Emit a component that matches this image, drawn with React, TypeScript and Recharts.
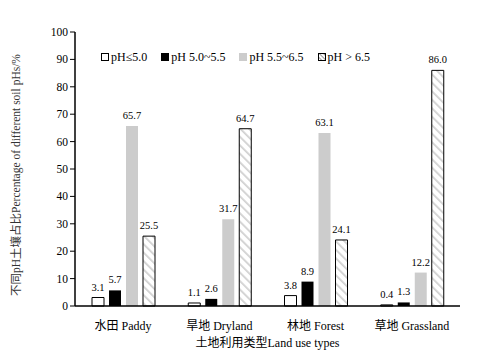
import React from 'react';
import { BarChart, Bar, XAxis, YAxis, Legend, LabelList } from 'recharts';

const categories = ['水田 Paddy', '旱地 Dryland', '林地 Forest', '草地 Grassland'];
const phLow = [3.1, 1.1, 3.8, 0.4];
const phMidLow = [5.7, 2.6, 8.9, 1.3];
const phMidHigh = [65.7, 31.7, 63.1, 12.2];
const phHigh = [25.5, 64.7, 24.1, 86.0];
const yTicks = [0, 10, 20, 30, 40, 50, 60, 70, 80, 90, 100];

const seriesNames = ['pH≤5.0', 'pH 5.0~5.5', 'pH 5.5~6.5', 'pH > 6.5'];

const data = categories.map((name, i) => ({
  name,
  a: phLow[i],
  b: phMidLow[i],
  c: phMidHigh[i],
  d: phHigh[i],
}));

const SERIF = '"Liberation Serif", "Noto Sans CJK SC", serif';
const GRAY = '#cccccc';

const fmt = (v: any) => Number(v).toFixed(1);

function LegendBox() {
  const items = [
    { label: seriesNames[0], fill: '#fff', stroke: '#000' },
    { label: seriesNames[1], fill: '#000', stroke: '#000' },
    { label: seriesNames[2], fill: GRAY, stroke: GRAY },
    { label: seriesNames[3], fill: 'url(#hatchLegend)', stroke: '#000' },
  ];
  return (
    <div style={{ display: 'flex', fontFamily: SERIF, fontSize: 12, color: '#000', lineHeight: '14px' }}>
      {items.map((it, i) => (
        <div key={i} style={{ display: 'flex', alignItems: 'center', marginRight: 14 }}>
          <svg width={8} height={8} style={{ marginRight: 2 }}>
            <defs>
              <pattern id="hatchLegend" width={3} height={3} patternUnits="userSpaceOnUse" patternTransform="rotate(-45)">
                <rect width={3} height={3} fill="#fff" />
                <line x1={0} y1={0} x2={0} y2={3} stroke="#999" strokeWidth={2} />
              </pattern>
            </defs>
            <rect x={0.5} y={0.5} width={7} height={7} fill={it.fill} stroke={it.stroke} strokeWidth={1} />
          </svg>
          <span>{it.label}</span>
        </div>
      ))}
    </div>
  );
}

const labelStyle = { fontFamily: SERIF, fontSize: 10.5, fill: '#000' };

export default function App() {
  return (
    <div style={{ marginLeft: -8, marginTop: -8 }}>
      <BarChart
        width={500}
        height={350}
        data={data}
        margin={{ top: 32, right: 40, bottom: 0, left: 20 }}
        barSize={12}
        barGap={5}
      >
        <defs>
          <pattern id="hatch" width={6} height={6} patternUnits="userSpaceOnUse" patternTransform="rotate(-45)">
            <rect width={6} height={6} fill="#fff" />
            <line x1={0} y1={0} x2={0} y2={6} stroke="#d0d0d0" strokeWidth={3.5} />
          </pattern>
        </defs>
        <XAxis
          dataKey="name"
          height={44}
          tickLine={false}
          axisLine={{ stroke: '#000', strokeWidth: 1.5 }}
          tick={{ fontFamily: SERIF, fontSize: 12, fill: '#000' }}
          tickMargin={9}
          label={{
            value: '土地利用类型Land use types',
            position: 'insideBottom',
            offset: 3,
            style: { fontFamily: SERIF, fontSize: 12, fill: '#000' },
          }}
        />
        <YAxis
          width={55}
          domain={[0, 100]}
          ticks={yTicks}
          interval={0}
          tickSize={5}
          tickLine={{ stroke: '#000' }}
          axisLine={{ stroke: '#000', strokeWidth: 1.5 }}
          tick={{ fontFamily: SERIF, fontSize: 11.5, fill: '#000' }}
          label={{
            value: '不同pH土壤占比Percentage of different soil pHs/%',
            angle: -90,
            position: 'insideLeft',
            offset: -4,
            dy: 6,
            style: { textAnchor: 'middle', fontFamily: SERIF, fontSize: 11.5, fill: '#333' },
          }}
        />
        <Legend
          layout="horizontal"
          verticalAlign="middle"
          align="center"
          content={() => <LegendBox />}
          wrapperStyle={{ top: 50, left: 101, width: 380 }}
        />
        <Bar dataKey="a" name={seriesNames[0]} fill="#fff" stroke="#000" strokeWidth={1} isAnimationActive={false}>
          <LabelList dataKey="a" position="top" offset={7} formatter={fmt} style={labelStyle} />
        </Bar>
        <Bar dataKey="b" name={seriesNames[1]} fill="#000" isAnimationActive={false}>
          <LabelList dataKey="b" position="top" offset={7} formatter={fmt} style={labelStyle} />
        </Bar>
        <Bar dataKey="c" name={seriesNames[2]} fill={GRAY} isAnimationActive={false}>
          <LabelList dataKey="c" position="top" offset={7} formatter={fmt} style={labelStyle} />
        </Bar>
        <Bar dataKey="d" name={seriesNames[3]} fill="url(#hatch)" stroke="#000" strokeWidth={1} isAnimationActive={false}>
          <LabelList dataKey="d" position="top" offset={7} formatter={fmt} style={labelStyle} />
        </Bar>
      </BarChart>
    </div>
  );
}
